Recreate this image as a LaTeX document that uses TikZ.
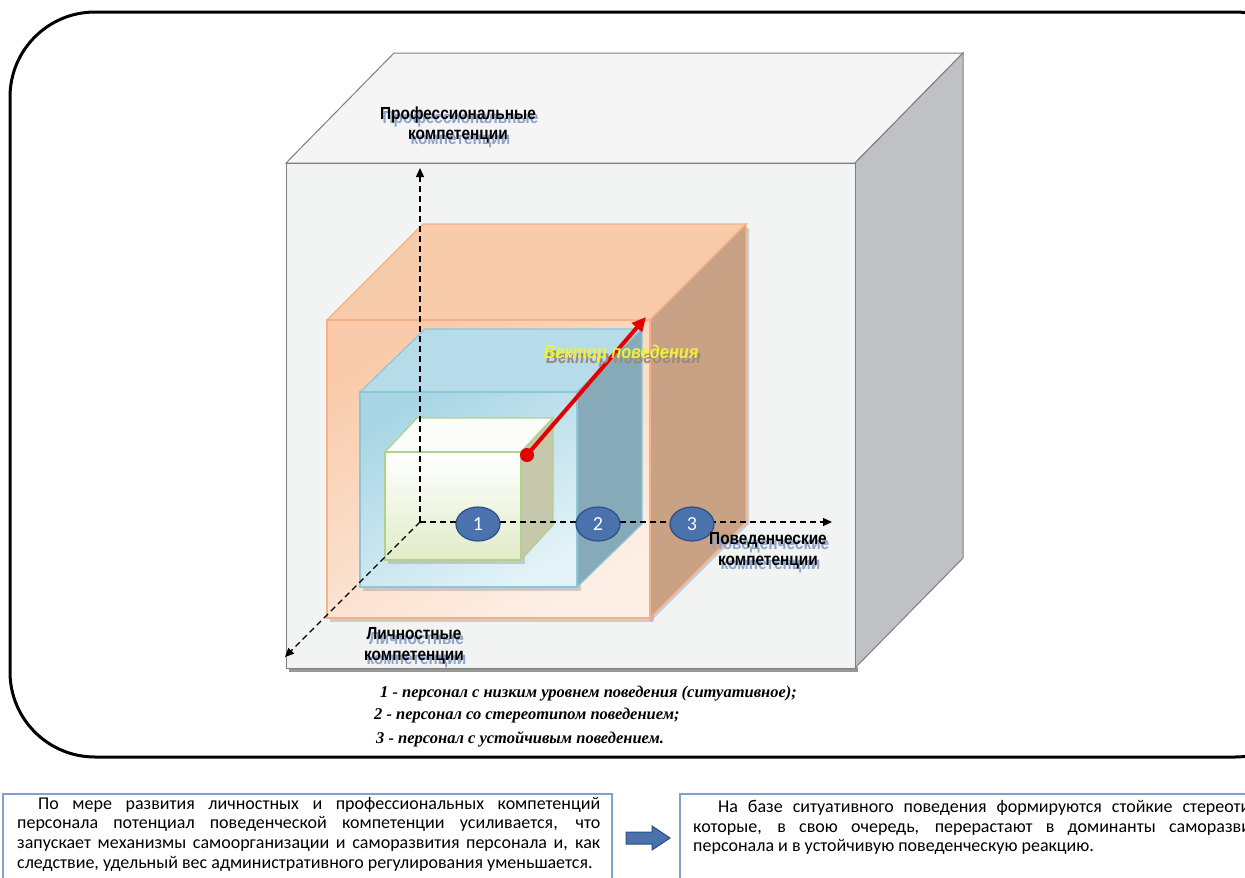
\documentclass[tikz,border=0pt]{standalone}
\usepackage{fontspec}
\setmainfont{Liberation Serif}
\newfontfamily\lblfont[FakeStretch=0.88]{Liberation Sans}
\newfontfamily\bodyfont{Carlito}
\usetikzlibrary{shapes.geometric,arrows.meta,shadows}
\definecolor{shadowc}{HTML}{8FA4CB}
\definecolor{vshadow}{HTML}{9A8A7C}
\definecolor{gfront}{HTML}{F2F3F3}
\definecolor{gtop}{HTML}{F5F5F5}
\definecolor{gright}{HTML}{C0C1C5}
\definecolor{gline}{HTML}{7F7F7F}
\definecolor{ofrontA}{HTML}{F9CBAA}
\definecolor{ofrontB}{HTML}{FDEFE6}
\definecolor{otop}{HTML}{F8CBAA}
\definecolor{oright}{HTML}{C9A285}
\definecolor{oline}{HTML}{F4B183}
\definecolor{bfrontA}{HTML}{A9D6E5}
\definecolor{bfrontB}{HTML}{E2F2F7}
\definecolor{btop}{HTML}{B5DCE8}
\definecolor{bright}{HTML}{86AAB8}
\definecolor{bline}{HTML}{8CC6D9}
\definecolor{cfrontA}{HTML}{FFFFFF}
\definecolor{cfrontB}{HTML}{E0ECC8}
\definecolor{ctop}{HTML}{FCFDF8}
\definecolor{cright}{HTML}{C6C8AC}
\definecolor{cline}{HTML}{B3CF8C}
\definecolor{numfill}{HTML}{4A72AC}
\definecolor{numline}{HTML}{2E4F86}
\definecolor{boxline}{HTML}{7FA1CE}
\definecolor{vecyel}{HTML}{F0F03A}
\newcommand\shd[2][shadowc]{\leavevmode\rlap{\hspace{2.5pt}\raisebox{-4.5pt}{\textcolor{#1}{#2}}}#2}
% cube: x1 y1 x2 y2 dx dy prefix
\newcommand\drawcube[7]{%
  \fill[#7top,draw=#7line,line width=1.2pt] (#1,#2) -- (#1+#5,#2-#6) -- (#3+#5,#2-#6) -- (#3,#2) -- cycle;
  \fill[#7right,draw=#7line,line width=1.2pt] (#3,#2) -- (#3+#5,#2-#6) -- (#3+#5,#4-#6) -- (#3,#4) -- cycle;
  \shade[top color=#7frontA,bottom color=#7frontB,shading angle=30,draw=#7line,line width=1.2pt] (#1,#2) rectangle (#3,#4);
}
\tikzset{
  lbl/.style={font=\lblfont\bfseries\fontsize{17.5}{20.5}\selectfont,align=center,inner sep=0pt},
  axis/.style={draw=black,line width=1.3pt,dash pattern=on 6pt off 4pt,-{Triangle[length=9pt,width=8pt]}},
  num/.style={ellipse,fill=numfill,draw=numline,line width=1.2pt,minimum width=44pt,minimum height=34pt,inner sep=0pt,text=white,font=\bodyfont\fontsize{20}{20}\selectfont},
  legend/.style={anchor=west,inner sep=0pt,font=\bfseries\itshape\fontsize{16.5}{19}\selectfont},
  bodytxt/.style={anchor=north west,inner sep=0pt,text width=583pt,align=justify,font=\bodyfont\fontsize{18}{19.6}\selectfont},
  textbox/.style={draw=boxline,line width=1.5pt,fill=white},
}
\begin{document}
\begin{tikzpicture}[x=1pt,y=-1pt]
\useasboundingbox (0,0) rectangle (1245,878);
\clip (0,0) rectangle (1245,878);
\fill[white] (0,0) rectangle (1245,878);
% outer frame
\draw[line width=3pt,rounded corners=85pt] (10,12) rectangle (1320,757);
% big gray box
\fill[gline!80] (289,667) rectangle (858,672);
\fill[gtop,draw=gline,line width=1pt] (286,163) -- (394,53) -- (963,53) -- (855,163) -- cycle;
\fill[gright,draw=gline,line width=1pt] (855,163) -- (963,53) -- (963,558) -- (855,668) -- cycle;
\fill[gfront,draw=gline,line width=1pt] (286,163) rectangle (855,668);
% orange cube
\fill[black!35,opacity=0.5] (330,323) rectangle (654,622);
\fill[black!35,opacity=0.5] (650,622) -- (749,524) -- (749,228) -- (745,228) -- (650,320) -- cycle;
\drawcube{327}{320}{650}{618}{96}{96}{o}
% blue cube
\fill[black!35,opacity=0.5] (363,395) rectangle (581,591);
\drawcube{360}{392}{577}{587}{65}{63}{b}
% green cube
\fill[black!35,opacity=0.5] (388,455) rectangle (525,564);
\shade[top color=ctop,bottom color=ctop] (385,452) -- (417,418) -- (553,418) -- (521,452) -- cycle;
\fill[cright,draw=cline,line width=1.2pt] (521,452) -- (553,418) -- (553,525) -- (521,560) -- cycle;
\draw[cline,line width=1.2pt] (385,452) -- (417,418) -- (553,418) -- (521,452);
\shade[top color=cfrontA,bottom color=cfrontB,draw=cline,line width=1.2pt] (385,452) rectangle (521,560);
% axes
\coordinate (O) at (420,522);
\coordinate (yend) at (420,168);
\coordinate (xend) at (832,522);
\coordinate (zend) at (285,657);
\draw[axis] (O) -- (yend);
\draw[axis] (O) -- (xend);
\draw[axis] (O) -- (zend);
% numbered markers
\node[num] (n1) at (478,524) {1};
\node[num] (n2) at (598,524) {2};
\node[num] (n3) at (692,524) {3};
% behaviour vector
\node[circle,fill=red!90!black,inner sep=0pt,minimum size=14pt] (start) at (527,455) {};
\coordinate (vend) at (646,317);
\draw[red!90!black,line width=4pt,-{Triangle[length=14pt,width=13pt]}] (start.center) -- (vend);
\node[font=\lblfont\bfseries\itshape\fontsize{18.5}{20}\selectfont,text=vecyel,inner sep=0pt] (vlab) at (621,356) {\shd[vshadow]{Вектор поведения}};
% axis labels
\node[lbl] (prof) at (458,127) {\shd{Профессиональные}\\\shd{компетенции}};
\node[lbl] (behav) at (768,553) {\shd{Поведенческие}\\\shd{компетенции}};
\node[lbl] (pers) at (414,648) {\shd{Личностные}\\\shd{компетенции}};
% legend
\node[legend] (l1) at (380,694) {1 - персонал с низким уровнем поведения (ситуативное);};
\node[legend] (l2) at (374,716) {2 - персонал со стереотипом поведением;};
\node[legend] (l3) at (376,739) {3 - персонал с устойчивым поведением.};
% bottom boxes
\draw[textbox] (3,794) rectangle (612,900);
\node[bodytxt] (t1) at (17,797) {\hspace*{21pt}По мере развития личностных и профессиональных компетенций персонала потенциал поведенческой компетенции усиливается, что запускает механизмы самоорганизации и саморазвития персонала и, как следствие, удельный вес административного регулирования уменьшается.};
\draw[textbox] (680,794) rectangle (1300,900);
\node[bodytxt] (t2) at (693,800) {\hspace*{25pt}На базе ситуативного поведения формируются стойкие стереотипы, которые, в свою очередь, перерастают в доминанты саморазвития персонала и в устойчивую поведенческую реакцию.};
\fill[numfill,draw=numline,line width=1pt] (626,832) -- (652,832) -- (652,826) -- (670,838) -- (652,850) -- (652,844) -- (626,844) -- cycle;
\node[inner sep=0pt] (arr) at (648,838) {};
\end{tikzpicture}
\end{document}
